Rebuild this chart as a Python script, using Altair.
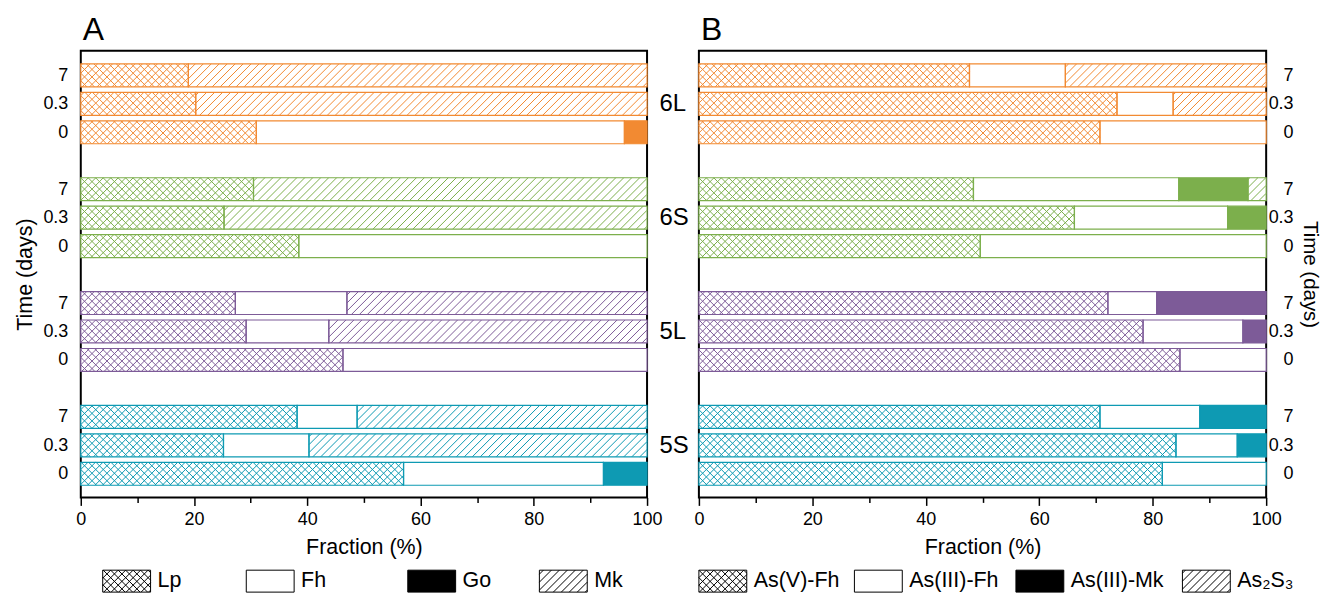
import json
import math
import altair as alt
import pandas as pd

# ---------------- data ----------------
GROUPS = ["6L", "6S", "5L", "5S"]
TIMES = ["7", "0.3", "0"]          # time (days), top to bottom within each group

A_COMPONENTS = ["Lp", "Fh", "Go", "Mk"]
A_LP = [19.0, 20.3, 31.0, 30.5, 25.3, 38.5, 27.3, 29.2, 46.3, 38.2, 25.2, 57.0]
A_FH = [0.0, 0.0, 65.0, 0.0, 0.0, 61.5, 19.7, 14.6, 53.7, 10.6, 15.1, 35.3]
A_GO = [0.0, 0.0, 4.0, 0.0, 0.0, 0.0, 0.0, 0.0, 0.0, 0.0, 0.0, 7.7]
A_MK = [81.0, 79.7, 0.0, 69.5, 74.7, 0.0, 53.0, 56.2, 0.0, 51.2, 59.7, 0.0]

B_COMPONENTS = ["As(V)-Fh", "As(III)-Fh", "As(III)-Mk", "As₂S₃"]
B_ASV_FH = [47.7, 73.7, 70.7, 48.4, 66.2, 49.6, 72.1, 78.3, 84.8, 70.7, 84.1, 81.7]
B_ASIII_FH = [16.9, 9.9, 29.3, 36.2, 27.0, 50.4, 8.6, 17.6, 15.2, 17.6, 10.8, 18.3]
B_ASIII_MK = [0.0, 0.0, 0.0, 12.2, 6.8, 0.0, 19.3, 4.1, 0.0, 11.7, 5.1, 0.0]
B_AS2S3 = [35.4, 16.4, 0.0, 3.2, 0.0, 0.0, 0.0, 0.0, 0.0, 0.0, 0.0, 0.0]

# ---------------- style ----------------
FONT = "Liberation Sans"
GROUP_COLORS = ["#F28A32", "#7CAF4C", "#7D5B98", "#0E9AB3"]
COMP_STYLE = ["cross", "empty", "solid", "diag"]
PW = {"A": 568, "B": 569}
PH = 448
Y_DOM = [-0.865, 14.83]
HALF = 0.403
CROSS_P = 7.5
DIAG_P = 8.0
LEG_OFFSETS = {"A": [22, 166, 328, 460], "B": [0, 156, 318, 485]}
SW_W, SW_H = 48, 22


def hatch_lines(X0, X1, Y0, Y1, direction, period):
    """45-degree hatch lines (pixel space) clipped to a rectangle."""
    out = []
    if direction == "/":
        cmin, cmax = X0 + Y0, X1 + Y1
    else:
        cmin, cmax = X0 - Y1, X1 - Y0
    k = math.floor(cmin / period) + 1
    while k * period < cmax:
        c = k * period
        k += 1
        if direction == "/":
            pa, pb = max(X0, c - Y1), min(X1, c - Y0)
            if pb - pa > 0.05:
                out.append((pa, c - pa, pb, c - pb))
        else:
            pa, pb = max(X0, c + Y0), min(X1, c + Y1)
            if pb - pa > 0.05:
                out.append((pa, pa - c, pb, pb - c))
    return out


def segments(panel, comps):
    rows = []
    for b in range(len(comps[0])):
        g, i = divmod(b, 3)
        p = 4 * g + i
        cum = 0.0
        for c, vals in enumerate(comps):
            w = vals[b]
            if w <= 0:
                continue
            rows.append({
                "group": GROUPS[g], "time": TIMES[i], "comp": c,
                "x0": cum, "x1": cum + w, "ylo": p - HALF, "yhi": p + HALF,
                "fillcol": GROUP_COLORS[g] if COMP_STYLE[c] == "solid" else "white",
                "strokecol": GROUP_COLORS[g],
            })
            cum += w
    return pd.DataFrame(rows)


def panel_chart(panel, comps):
    df = segments(panel, comps)
    pw = PW[panel]
    span = Y_DOM[1] - Y_DOM[0]
    xs = alt.Scale(domain=[0, 100], nice=False, zero=False)
    ys = alt.Scale(domain=Y_DOM, reverse=True, nice=False, zero=False)
    pos_vals = [4 * g + i for g in range(len(GROUPS)) for i in range(len(TIMES))]
    time_expr = f"{json.dumps(TIMES)}[datum.value % 4]"

    major = alt.Axis(values=[0, 20, 40, 60, 80, 100], tickSize=8, tickWidth=1.5,
                     tickColor="black", domain=False, grid=False, labelFontSize=18,
                     labelPadding=5, labelFlush=False, labelOverlap=False,
                     title="Fraction (%)", titleFontSize=21.5, titlePadding=8,
                     orient="bottom")
    minor = alt.Axis(values=[10, 30, 50, 70, 90], tickSize=5, tickWidth=1.5,
                     tickColor="black", domain=False, grid=False, labels=False,
                     title=None, orient="bottom")
    if panel == "A":
        ymain = alt.Axis(values=pos_vals, labelExpr=time_expr, ticks=False, domain=False,
                         grid=False, labelFontSize=18, labelPadding=13,
                         title="Time (days)", titleFontSize=21.5, titlePadding=6,
                         orient="left")
        yextra = alt.Axis(values=[4 * g + 1 for g in range(len(GROUPS))],
                          labelExpr=f"{json.dumps(GROUPS)}[floor(datum.value / 4)]",
                          ticks=False, domain=False, grid=False, labelFontSize=24,
                          labelAlign="left", labelPadding=12, title=None, orient="right")
    else:
        ymain = alt.Axis(values=pos_vals, labelExpr=time_expr, ticks=False, domain=False,
                         grid=False, labelFontSize=18, labelPadding=27, labelAlign="right",
                         title="Time (days)", titleFontSize=20.5, titlePadding=6.5,
                         titleAngle=90, orient="right")
        yextra = None

    # hatch lines derived from the segments (pixel geometry -> data units)
    hrows = []
    for _, r in df.iterrows():
        style = COMP_STYLE[r["comp"]]
        if style not in ("cross", "diag"):
            continue
        X0, X1 = r["x0"] / 100 * pw, r["x1"] / 100 * pw
        Y0 = (r["ylo"] - Y_DOM[0]) / span * PH
        Y1 = (r["yhi"] - Y_DOM[0]) / span * PH
        per = CROSS_P if style == "cross" else DIAG_P
        dirs = ["/", "\\"] if style == "cross" else ["/"]
        for d in dirs:
            for (ax, ay, bx, by) in hatch_lines(X0, X1, Y0, Y1, d, per):
                hrows.append({
                    "hx": round(ax * 100 / pw, 4), "hy": round(Y_DOM[0] + ay * span / PH, 4),
                    "hx2": round(bx * 100 / pw, 4), "hy2": round(Y_DOM[0] + by * span / PH, 4),
                    "col": r["strokecol"],
                })
    hdf = pd.DataFrame(hrows)

    base = alt.Chart(df).mark_bar(strokeWidth=0).encode(
        x=alt.X("x0:Q", scale=xs, axis=major),
        x2="x1:Q",
        y=alt.Y("ylo:Q", scale=ys, axis=ymain),
        y2="yhi:Q",
        fill=alt.Fill("fillcol:N", scale=None),
    )
    hatch = alt.Chart(hdf).mark_rule(strokeWidth=1).encode(
        x=alt.X("hx:Q", scale=xs, axis=None), x2="hx2:Q",
        y=alt.Y("hy:Q", scale=ys, axis=None), y2="hy2:Q",
        stroke=alt.Stroke("col:N", scale=None),
    )
    outline = alt.Chart(df).mark_bar(fill="transparent", strokeWidth=1.2).encode(
        x=alt.X("x0:Q", scale=xs, axis=minor),
        x2="x1:Q",
        y=alt.Y("ylo:Q", scale=ys, axis=yextra),
        y2="yhi:Q",
        stroke=alt.Stroke("strokecol:N", scale=None),
    )

    return alt.layer(base, hatch, outline).resolve_axis(x="independent", y="independent").properties(
        width=pw, height=PH,
        view=alt.ViewBackground(stroke="black", strokeWidth=2),
        title=alt.Title(panel, anchor="start", frame="group", fontSize=32,
                        fontWeight="normal", font=FONT, color="black", offset=4, dx=2),
    )


def legend_chart(panel, names):
    pw = PW[panel]
    offs = LEG_OFFSETS[panel]
    ldf = pd.DataFrame({
        "name": names,
        "xs": offs,
        "xe": [o + SW_W for o in offs],
        "xt": [o + SW_W + 7 for o in offs],
        "ys": [0] * len(names),
        "ye": [SW_H] * len(names),
        "fillcol": ["black" if COMP_STYLE[i] == "solid" else "white" for i in range(len(names))],
    })
    hrows = []
    for i, style in enumerate(COMP_STYLE):
        if style not in ("cross", "diag"):
            continue
        per = CROSS_P if style == "cross" else DIAG_P
        dirs = ["/", "\\"] if style == "cross" else ["/"]
        for d in dirs:
            for (ax, ay, bx, by) in hatch_lines(offs[i], offs[i] + SW_W, 0, SW_H, d, per):
                hrows.append({"hx": round(ax, 3), "hy": round(ay, 3),
                              "hx2": round(bx, 3), "hy2": round(by, 3)})
    hdf = pd.DataFrame(hrows)

    xs = alt.Scale(domain=[0, pw], nice=False, zero=False)
    ys = alt.Scale(domain=[0, SW_H], nice=False, zero=False, reverse=True)
    enc = dict(x=alt.X("xs:Q", scale=xs, axis=None), x2="xe:Q",
               y=alt.Y("ys:Q", scale=ys, axis=None), y2="ye:Q")
    fill = alt.Chart(ldf).mark_rect(strokeWidth=0).encode(
        fill=alt.Fill("fillcol:N", scale=None), **enc)
    hatch = alt.Chart(hdf).mark_rule(strokeWidth=1, color="black").encode(
        x=alt.X("hx:Q", scale=xs, axis=None), x2="hx2:Q",
        y=alt.Y("hy:Q", scale=ys, axis=None), y2="hy2:Q")
    frame = alt.Chart(ldf).mark_rect(fill="transparent", stroke="black",
                                     strokeWidth=1).encode(**enc)
    text = alt.Chart(ldf).mark_text(align="left", baseline="middle", fontSize=21.5,
                                    font=FONT, color="black").encode(
        x=alt.X("xt:Q", scale=xs, axis=None), y=alt.value(SW_H / 2), text="name:N")
    return alt.layer(fill, hatch, frame, text).properties(
        width=pw, height=SW_H, view=alt.ViewBackground(strokeWidth=0, stroke="transparent"))


plotA = panel_chart("A", [A_LP, A_FH, A_GO, A_MK])
plotB = panel_chart("B", [B_ASV_FH, B_ASIII_FH, B_ASIII_MK, B_AS2S3])
colA = alt.vconcat(plotA, legend_chart("A", A_COMPONENTS), spacing=10)
colB = alt.vconcat(plotB, legend_chart("B", B_COMPONENTS), spacing=10)

chart = (
    alt.hconcat(colA, colB, spacing=2)
    .properties(padding={"left": 5, "top": 4, "right": 0, "bottom": 0})
    .configure(font=FONT)
    .configure_view(stroke="transparent")
    .configure_axis(labelColor="black", titleColor="black", titleFontWeight="normal",
                    labelFont=FONT, titleFont=FONT)
    .configure_title(font=FONT, color="black")
)

chart.save("out.html", embed_options={"renderer": "svg", "actions": False})
